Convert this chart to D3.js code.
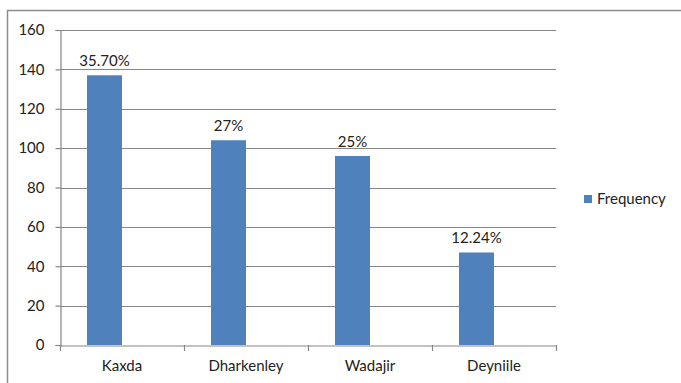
<!DOCTYPE html>
<html>
<head>
<meta charset="utf-8">
<script src="https://cdn.jsdelivr.net/npm/d3@7"></script>
<style>
  body { margin: 0; background: #fff; }
  text { font-family: Lato, "Open Sans", sans-serif; fill: #222; }
</style>
</head>
<body>
<div id="chart"></div>
<script>
// Chart data
const categories = ['Kaxda', 'Dharkenley', 'Wadajir', 'Deyniile'];
const frequency = [137, 104, 96, 47];
const pctLabels = ['35.70%', '27%', '25%', '12.24%'];
const yTicks = [0, 20, 40, 60, 80, 100, 120, 140, 160];
const seriesName = 'Frequency';

const width = 681;
const height = 383;
const margin = { left: 60, right: 125, top: 30, bottom: 38 };
const fontSize = '15px';

const svg = d3.select('#chart').append('svg')
  .attr('width', width)
  .attr('height', height);

// outer chart border (runs off the right and bottom of the picture)
svg.append('rect')
  .attr('x', 7.5).attr('y', 10.5)
  .attr('width', 700).attr('height', 400)
  .attr('fill', 'none')
  .attr('stroke', '#8c8c8c')
  .attr('stroke-width', 1.5);

const x = d3.scaleBand()
  .domain(categories)
  .range([margin.left, width - margin.right]);

const y = d3.scaleLinear()
  .domain([0, 160])
  .range([height - margin.bottom, margin.top]);

// gridlines
svg.append('g')
  .selectAll('line')
  .data(yTicks.filter(d => d > 0))
  .enter().append('line')
  .attr('x1', margin.left).attr('x2', width - margin.right)
  .attr('y1', d => Math.round(y(d)) + 0.5).attr('y2', d => Math.round(y(d)) + 0.5)
  .attr('stroke', '#868686')
  .attr('stroke-width', 1.2);

// y axis
const yAxis = svg.append('g')
  .attr('transform', `translate(${margin.left + 0.5},0)`)
  .call(d3.axisLeft(y).tickValues(yTicks).tickSize(5).tickPadding(11).tickFormat(d3.format('d')));
yAxis.select('.domain').attr('stroke', '#868686').attr('stroke-width', 1.2);
yAxis.selectAll('.tick line').attr('stroke', '#868686').attr('stroke-width', 1.2);
yAxis.selectAll('text').style('font-size', fontSize).attr('fill', '#222');

// bars (sit left of the band centre, as in the original)
const barW = 35;
const barX = d => x(d) + x.bandwidth() / 2 - barW;
svg.append('g')
  .selectAll('rect')
  .data(categories)
  .enter().append('rect')
  .attr('x', barX)
  .attr('y', (d, i) => y(frequency[i]))
  .attr('width', barW)
  .attr('height', (d, i) => y(0) - y(frequency[i]))
  .attr('fill', '#4f81bd');

// value labels
svg.append('g')
  .selectAll('text')
  .data(categories)
  .enter().append('text')
  .attr('x', d => barX(d) + barW / 2)
  .attr('y', (d, i) => y(frequency[i]) - 9)
  .attr('text-anchor', 'middle')
  .style('font-size', fontSize)
  .text((d, i) => pctLabels[i]);

// x axis
const xAxis = svg.append('g')
  .attr('transform', `translate(0,${y(0) + 0.5})`)
  .call(d3.axisBottom(x).tickSize(0).tickPadding(15));
xAxis.select('.domain').attr('stroke', '#868686').attr('stroke-width', 1.2);
xAxis.selectAll('text').style('font-size', fontSize).attr('fill', '#222');

// x tick marks at band boundaries
svg.append('g')
  .selectAll('line')
  .data(categories.map(d => x(d)).concat([x.range()[1]]))
  .enter().append('line')
  .attr('x1', d => Math.round(d) + 0.5).attr('x2', d => Math.round(d) + 0.5)
  .attr('y1', y(0)).attr('y2', y(0) + 6)
  .attr('stroke', '#868686')
  .attr('stroke-width', 1.2);

// legend
const legend = svg.append('g').attr('transform', 'translate(584,199)');
legend.append('rect')
  .attr('x', 0).attr('y', -4)
  .attr('width', 8).attr('height', 8)
  .attr('fill', '#4f81bd');
legend.append('text')
  .attr('x', 13).attr('y', 0)
  .attr('dy', '0.35em')
  .style('font-size', fontSize)
  .text(seriesName);
</script>
</body>
</html>
